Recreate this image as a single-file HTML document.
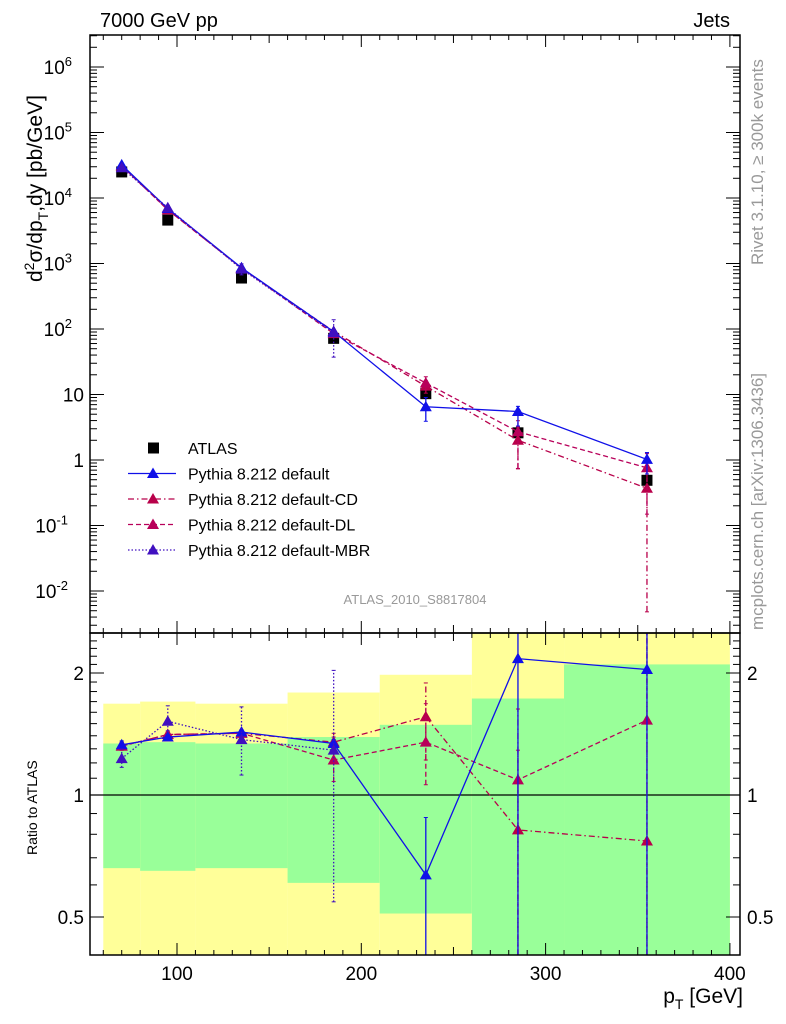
<!DOCTYPE html>
<html><head><meta charset="utf-8"><style>
html,body{margin:0;padding:0;background:#fff;overflow:hidden;width:786px;height:1024px}
svg{font-family:"Liberation Sans",sans-serif;display:block}
</style></head><body>
<svg id="c" width="786" height="1024" viewBox="0 0 786 1024"></svg>
<script>
const xs=[70,95,135,185,235,285,355];
const atlas=[2.5e4,4.6e3,600,72,10.3,2.6,0.49];
const dflt=[3.2e4,6.9e3,860,91,6.5,5.5,1.02];
const cd=[3.1e4,6.6e3,850,92,13.4,2.0,0.37];
const dl=[3.1e4,6.6e3,850,85,15,2.7,0.76];
const mbr=[2.9e4,7.1e3,820,88];
const rDef=[1.33,1.39,1.43,1.34,0.635,2.17,2.04];
const rCD=[1.32,1.41,1.42,1.35,1.56,0.82,0.77];
const rDL=[1.32,1.41,1.42,1.22,1.35,1.09,1.53];
const rMBR=[1.23,1.52,1.37,1.29];
const eDefLo=[1.30,1.37,1.41,1.31,0.3,0.3,0.3], eDefHi=[1.36,1.41,1.45,1.37,0.88,2.6,2.6];
const eCDLo=[1.29,1.39,1.40,1.30,1.22,0.3,0.01], eCDHi=[1.35,1.43,1.45,1.42,1.89,1.63,2.6];
const eDLLo=[1.29,1.39,1.40,1.08,1.06,0.3,0.3], eDLHi=[1.35,1.43,1.45,1.39,1.68,1.29,2.6];
const eMBRLo=[1.17,1.44,1.12,0.545], eMBRHi=[1.30,1.66,1.65,2.03];
const binEdges=[60,80,110,160,210,260,310,400];
const yelHi=[1.68,1.70,1.68,1.79,1.98,2.6,2.6];
const grnHi=[1.34,1.35,1.34,1.39,1.49,1.73,2.10];
const grnLo=[0.66,0.65,0.66,0.607,0.51,0.3,0.3];
const yelLo=[0.3,0.3,0.3,0.3,0.3,0.3,0.3];

const NS='http://www.w3.org/2000/svg', svg=document.getElementById('c');
const L=90,R=740,T=35,M=633,B=955;
const X=v=>177+(v-100)*1.843;
const Y=v=>67+(6-Math.log10(v))*65.5;
const RY=v=>795-Math.log2(v)*122;
const cR=v=>Math.max(M,Math.min(B,RY(v)));
const cY=v=>Math.max(T,Math.min(M,Y(v)));
function el(t,a,p){const e=document.createElementNS(NS,t);for(const k in a)e.setAttribute(k,a[k]);(p||svg).appendChild(e);return e;}
function txt(s,a,p){const e=el('text',a,p);e.textContent=s;return e;}
const clipD=el('defs',{});
const cp1=el('clipPath',{id:'cm'},clipD);el('rect',{x:L,y:T,width:R-L,height:M-T},cp1);
const cp2=el('clipPath',{id:'cr'},clipD);el('rect',{x:L,y:M,width:R-L,height:B-M},cp2);

const bands=el('g',{'clip-path':'url(#cr)'});


for(let i=0;i<binEdges.length-1;i++){
  const x0=X(binEdges[i]),x1=X(binEdges[i+1]);
  const y1=el('rect',{x:x0,y:cR(yelHi[i]),width:x1-x0,height:cR(yelLo[i])-cR(yelHi[i]),fill:'#ffff99'},bands);
  
  
  const g1=el('rect',{x:x0,y:cR(grnHi[i]),width:x1-x0,height:cR(grnLo[i])-cR(grnHi[i]),fill:'#99ff99'},bands);
  
  
}
el('line',{x1:L,x2:R,y1:RY(1),y2:RY(1),stroke:'#000','stroke-width':1.2});

const styles={def:{c:'#1010e8',d:''},cd:{c:'#b8004a',d:'6,3,1.5,3'},dl:{c:'#b8005a',d:'5,3'},mbr:{c:'#4010c0',d:'1.5,2'}};
function tri(x,y,c,p){return el('polygon',{points:`${x},${y-6} ${x-6},${y+4.5} ${x+6},${y+4.5}`,fill:c},p);}
function series(name,vals,yf,cf,st,clip,lo,hi){
  const g=el('g',{'clip-path':clip});
  
  
  const pts=vals.map((v,i)=>X(xs[i])+','+cf(v)).join(' ');
  el('polyline',{points:pts,fill:'none',stroke:st.c,'stroke-width':1.3,'stroke-dasharray':st.d},g);
  vals.forEach((v,i)=>{
    if(lo){const x=X(xs[i]);const a=cf(lo[i]),b=cf(hi[i]);
      el('line',{x1:x,x2:x,y1:a,y2:b,stroke:st.c,'stroke-width':1.3,'stroke-dasharray':st.d},g);
      el('line',{x1:x-2,x2:x+2,y1:a,y2:a,stroke:st.c},g);el('line',{x1:x-2,x2:x+2,y1:b,y2:b,stroke:st.c},g);}
    const t=tri(X(xs[i]),yf(v),st.c,g);
    
    
  });
}
const ag=el('g',{'clip-path':'url(#cm)'});


atlas.forEach((v,i)=>{const r=el('rect',{x:X(xs[i])-5.5,y:Y(v)-5.5,width:11,height:11,fill:'#000'},ag);
  
  });
series('cd-main',cd,Y,cY,styles.cd,'url(#cm)',cd.map((v,i)=>v*eCDLo[i]/rCD[i]),cd.map((v,i)=>v*eCDHi[i]/rCD[i]));
series('dl-main',dl,Y,cY,styles.dl,'url(#cm)',dl.map((v,i)=>v*eDLLo[i]/rDL[i]),dl.map((v,i)=>v*eDLHi[i]/rDL[i]));
series('default-main',dflt,Y,cY,styles.def,'url(#cm)',dflt.map((v,i)=>v*Math.max(eDefLo[i],0.6*rDef[i])/rDef[i]),dflt.map((v,i)=>v*Math.min(eDefHi[i],1.4*rDef[i])/rDef[i]));
series('mbr-main',mbr,Y,cY,styles.mbr,'url(#cm)',mbr.map((v,i)=>v*eMBRLo[i]/rMBR[i]),mbr.map((v,i)=>v*eMBRHi[i]/rMBR[i]));
series('cd-ratio',rCD,RY,cR,styles.cd,'url(#cr)',eCDLo,eCDHi);
series('dl-ratio',rDL,RY,cR,styles.dl,'url(#cr)',eDLLo,eDLHi);
series('default-ratio',rDef,RY,cR,styles.def,'url(#cr)',eDefLo,eDefHi);
series('mbr-ratio',rMBR,RY,cR,styles.mbr,'url(#cr)',eMBRLo,eMBRHi);

el('rect',{x:L,y:T,width:R-L,height:M-T,fill:'none',stroke:'#000','stroke-width':1.5});
el('rect',{x:L,y:M,width:R-L,height:B-M,fill:'none',stroke:'#000','stroke-width':1.5});
for(let v=60;v<=400;v+=10){const x=X(v);const maj=v%100==0;const len=maj?12:(v%50==0?8:5);
  if(x<L||x>R)continue;
  [[T,1],[M,1],[M,-1],[B,-1]].forEach(([y,s])=>el('line',{x1:x,x2:x,y1:y,y2:y+s*len,stroke:'#000'}));}
[100,200,300,400].forEach(v=>txt(v,{x:X(v),y:980,'font-size':19,'text-anchor':'middle'}));
const decs=[-2,-1,0,1,2,3,4,5,6];
for(let d=-3;d<=6;d++)for(let m=1;m<10;m++){const y=Y(m*Math.pow(10,d));if(y<T||y>M)continue;const len=m==1?14:7;
  el('line',{x1:L,x2:L+len,y1:y,y2:y,stroke:'#000'});el('line',{x1:R,x2:R-len,y1:y,y2:y,stroke:'#000'});}
decs.forEach(d=>{const y=Y(Math.pow(10,d));
  if(d==0)txt('1',{x:84,y:y+7,'font-size':19,'text-anchor':'end'});
  else if(d==1)txt('10',{x:84,y:y+7,'font-size':19,'text-anchor':'end'});
  else{const t=txt('10',{x:d<0?68:72,y:y+7,'font-size':19,'text-anchor':'end'});const s=el('tspan',{dy:-8,'font-size':13},t);s.textContent=d;}});
[0.4,0.5,0.6,0.7,0.8,0.9,1,1.1,1.2,1.3,1.4,1.5,1.6,1.7,1.8,1.9,2,2.1,2.2,2.3,2.4].forEach(v=>{const y=RY(v);if(y<M||y>B)return;
  const len=(v==0.5||v==1||v==2)?14:7;el('line',{x1:L,x2:L+len,y1:y,y2:y,stroke:'#000'});el('line',{x1:R,x2:R-len,y1:y,y2:y,stroke:'#000'});});
[[2,'2'],[1,'1'],[0.5,'0.5']].forEach(([v,s])=>{txt(s,{x:84,y:RY(v)+7,'font-size':19,'text-anchor':'end'});txt(s,{x:747,y:RY(v)+7,'font-size':19});});
txt('7000 GeV pp',{x:100,y:27,'font-size':20,});
txt('Jets',{x:730,y:27,'font-size':20,'text-anchor':'end',});
txt('ATLAS_2010_S8817804',{x:415,y:604,'font-size':13,fill:'#999','text-anchor':'middle',});
const yt=txt('',{transform:'translate(42,282) rotate(-90)','font-size':21,});
yt.innerHTML='d<tspan dy="-8" font-size="14">2</tspan><tspan dy="8">σ/dp</tspan><tspan dy="6" font-size="14">T</tspan><tspan dy="-6">,dy [pb/GeV]</tspan>';
txt('Ratio to ATLAS',{transform:'translate(37,855) rotate(-90)','font-size':14,});
const xt=txt('',{x:743,y:1003,'font-size':21,'text-anchor':'end',});
xt.innerHTML='p<tspan dy="6" font-size="14">T</tspan><tspan dy="-6"> [GeV]</tspan>';
txt('Rivet 3.1.10, ≥ 300k events',{transform:'translate(763,265) rotate(-90)','font-size':17,fill:'#999',});
txt('mcplots.cern.ch [arXiv:1306.3436]',{transform:'translate(763,630) rotate(-90)','font-size':17,fill:'#999',});
const lg=el('g',{});


const ents=[['ATLAS',null],['Pythia 8.212 default',styles.def],['Pythia 8.212 default-CD',styles.cd],['Pythia 8.212 default-DL',styles.dl],['Pythia 8.212 default-MBR',styles.mbr]];
ents.forEach(([n,st],i)=>{const y=448+i*25.5;const g=el('g',{},lg);
  
  
  if(!st)el('rect',{x:148,y:y-5.5,width:11,height:11,fill:'#000'},g);
  else{el('line',{x1:128,x2:176,y1:y,y2:y,stroke:st.c,'stroke-width':1.3,'stroke-dasharray':st.d},g);tri(153,y,st.c,g);}
  txt(n,{x:188,y:y+6,'font-size':16},g);});
</script>
</body></html>
